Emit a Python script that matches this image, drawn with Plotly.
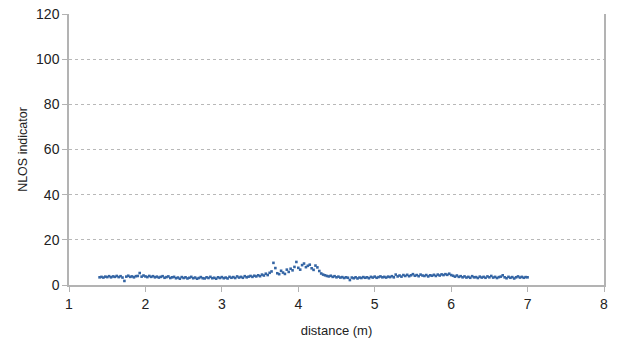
import plotly.graph_objects as go

distance = [
    1.400, 1.425, 1.450, 1.475, 1.500, 1.525, 1.550, 1.575, 1.600, 1.625,
    1.650, 1.675, 1.700, 1.725, 1.750, 1.775, 1.800, 1.825, 1.850, 1.875,
    1.900, 1.925, 1.950, 1.975, 2.000, 2.025, 2.050, 2.075, 2.100, 2.125,
    2.150, 2.175, 2.200, 2.225, 2.250, 2.275, 2.300, 2.325, 2.350, 2.375,
    2.400, 2.425, 2.450, 2.475, 2.500, 2.525, 2.550, 2.575, 2.600, 2.625,
    2.650, 2.675, 2.700, 2.725, 2.750, 2.775, 2.800, 2.825, 2.850, 2.875,
    2.900, 2.925, 2.950, 2.975, 3.000, 3.025, 3.050, 3.075, 3.100, 3.125,
    3.150, 3.175, 3.200, 3.225, 3.250, 3.275, 3.300, 3.325, 3.350, 3.375,
    3.400, 3.425, 3.450, 3.475, 3.500, 3.525, 3.550, 3.575, 3.600, 3.625,
    3.650, 3.675, 3.700, 3.725, 3.750, 3.775, 3.800, 3.825, 3.850, 3.875,
    3.900, 3.925, 3.950, 3.975, 4.000, 4.025, 4.050, 4.075, 4.100, 4.125,
    4.150, 4.175, 4.200, 4.225, 4.250, 4.275, 4.300, 4.325, 4.350, 4.375,
    4.400, 4.425, 4.450, 4.475, 4.500, 4.525, 4.550, 4.575, 4.600, 4.625,
    4.650, 4.675, 4.700, 4.725, 4.750, 4.775, 4.800, 4.825, 4.850, 4.875,
    4.900, 4.925, 4.950, 4.975, 5.000, 5.025, 5.050, 5.075, 5.100, 5.125,
    5.150, 5.175, 5.200, 5.225, 5.250, 5.275, 5.300, 5.325, 5.350, 5.375,
    5.400, 5.425, 5.450, 5.475, 5.500, 5.525, 5.550, 5.575, 5.600, 5.625,
    5.650, 5.675, 5.700, 5.725, 5.750, 5.775, 5.800, 5.825, 5.850, 5.875,
    5.900, 5.925, 5.950, 5.975, 6.000, 6.025, 6.050, 6.075, 6.100, 6.125,
    6.150, 6.175, 6.200, 6.225, 6.250, 6.275, 6.300, 6.325, 6.350, 6.375,
    6.400, 6.425, 6.450, 6.475, 6.500, 6.525, 6.550, 6.575, 6.600, 6.625,
    6.650, 6.675, 6.700, 6.725, 6.750, 6.775, 6.800, 6.825, 6.850, 6.875,
    6.900, 6.925, 6.950, 6.975, 7.000,
]

nlos = [
    3.4, 3.6, 3.3, 3.7, 3.5, 3.9, 3.4, 3.8, 3.6, 4.0,
    3.5, 3.9, 3.3, 1.8, 3.7, 4.1, 3.6, 3.8, 3.4, 3.9,
    4.0, 5.3, 3.7, 4.2, 3.8, 3.5, 4.0, 3.6, 3.9, 3.4,
    3.7, 3.3, 3.6, 3.9, 3.2, 3.5, 3.8, 3.1, 3.4, 3.6,
    3.0, 3.3, 2.8, 3.5, 3.1, 3.4, 2.9, 3.2, 3.6, 3.0,
    3.3, 2.8, 3.1, 3.5, 3.0, 2.9, 3.4, 3.1, 3.6, 3.0,
    3.2, 2.8, 3.4, 3.1, 3.5, 3.0, 3.3, 2.9, 3.6, 3.2,
    3.5, 3.1, 3.8, 3.3, 3.6, 3.2, 3.9, 3.4, 3.7, 4.0,
    3.6, 4.1, 3.8, 4.3, 3.9, 4.6, 4.2, 5.0, 4.4, 5.4,
    6.0, 9.8, 7.5, 5.2, 4.8, 6.3, 5.5, 4.9, 6.8, 5.8,
    7.2, 6.5, 8.0, 10.2, 7.6, 6.8, 8.8, 9.5, 7.9, 8.5,
    9.0, 7.4, 6.7, 8.6, 7.8, 6.2, 5.1, 4.6, 4.3, 4.0,
    3.8, 4.1, 3.6, 3.9, 3.4, 3.7, 3.3, 3.5, 3.1, 3.4,
    3.2, 2.2, 3.3, 3.0, 3.4, 2.9, 3.3, 3.1, 3.5, 3.2,
    3.4, 3.0, 3.6, 3.3, 3.7, 3.2, 3.5, 3.8, 3.4, 3.6,
    3.3, 3.7, 3.5, 3.9, 3.4, 4.6, 3.8, 4.2, 3.7, 4.4,
    4.0, 4.5, 3.9, 4.3, 4.8, 4.1, 4.4, 3.9, 4.6, 4.2,
    4.0, 4.4, 3.8, 4.3, 4.1, 4.5, 4.0, 4.6, 4.2, 4.7,
    4.4, 4.8, 4.5, 5.0, 4.4, 4.1, 3.7, 4.2, 3.6, 3.9,
    3.4, 3.8, 3.3, 3.6, 3.2, 3.9, 3.4, 3.5, 3.1, 3.7,
    3.3, 3.6, 3.2, 3.8, 3.4, 4.0, 3.3, 3.6, 3.1, 3.5,
    3.7, 4.3, 3.4, 3.0, 3.6, 3.2, 3.5, 2.9, 3.4, 3.8,
    3.3, 3.6, 3.2, 3.5, 3.4,
]

x_ticks = [1, 2, 3, 4, 5, 6, 7, 8]
y_ticks = [0, 20, 40, 60, 80, 100, 120]

fig = go.Figure()
fig.add_trace(go.Scatter(
    x=distance, y=nlos, mode="markers",
    marker=dict(color="#3465a4", size=2.6, symbol="square", line=dict(width=0)),
    showlegend=False,
))

axis_font = dict(family="Liberation Sans, Arial, sans-serif", size=14, color="#222222")

fig.update_layout(
    width=625, height=339,
    margin=dict(l=69, r=21, t=14, b=54, autoexpand=False),
    paper_bgcolor="white", plot_bgcolor="white",
    font=dict(family="Liberation Sans, Arial, sans-serif", size=13, color="#222222"),
)
fig.update_xaxes(
    range=[1, 8], tickvals=x_ticks, ticktext=[str(v) for v in x_ticks],
    showgrid=False, zeroline=False, automargin=False,
    showline=True, linecolor="#b3b3b3", linewidth=1.5,
    ticks="outside", ticklen=5, tickcolor="#b3b3b3",
    tickfont=axis_font,
    title=dict(text="distance (m)", font=dict(size=13, color="#222222")),
)
fig.update_yaxes(
    range=[0, 120], tickvals=y_ticks, ticktext=[str(v) for v in y_ticks],
    showgrid=True, gridcolor="#b8b8b8", griddash="dot", gridwidth=1,
    zeroline=False, automargin=False,
    showline=True, linecolor="#b3b3b3", linewidth=1.5, mirror=True,
    ticks="outside", ticklen=5, tickcolor="#b3b3b3",
    tickfont=axis_font,
    title=dict(text="NLOS indicator", font=dict(size=12.5, color="#222222"), standoff=6),
)

fig.write_html("out.html", config={"displayModeBar": False},
               post_script="document.body.style.margin='0';")
